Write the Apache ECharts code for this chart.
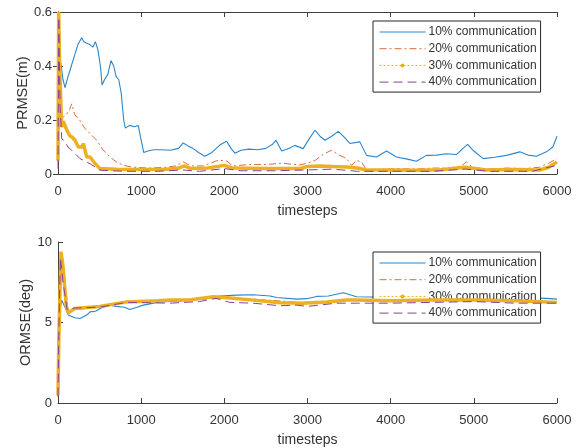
<!DOCTYPE html>
<html>
<head>
<meta charset="utf-8">
<script src="https://cdn.jsdelivr.net/npm/echarts@6/dist/echarts.min.js"></script>
<style>
  html, body { margin: 0; padding: 0; background: #fff; }
  #chart { width: 584px; height: 448px; }
</style>
</head>
<body>
<div id="chart"></div>
<script>
const seriesNames = ["10% communication", "20% communication", "30% communication", "40% communication"];
const xTicks = [0, 1000, 2000, 3000, 4000, 5000, 6000];

// PRMSE(m), [timestep, value]
const prmse10 = [[0,0.47],[10,0.45],[30,0.42],[60,0.35],[84,0.32],[120,0.36],[160,0.40],[200,0.44],[240,0.48],[285,0.505],[310,0.49],[340,0.485],[380,0.48],[420,0.47],[450,0.49],[480,0.46],[510,0.40],[530,0.33],[560,0.35],[600,0.37],[637,0.42],[670,0.40],[700,0.36],[730,0.35],[760,0.30],[790,0.20],[810,0.17],[860,0.18],[920,0.175],[965,0.18],[990,0.14],[1030,0.08],[1080,0.085],[1150,0.09],[1250,0.09],[1350,0.088],[1450,0.095],[1505,0.115],[1560,0.105],[1620,0.095],[1700,0.078],[1767,0.066],[1850,0.08],[1950,0.108],[2028,0.121],[2080,0.095],[2127,0.077],[2200,0.088],[2300,0.092],[2400,0.09],[2500,0.095],[2580,0.11],[2620,0.125],[2690,0.085],[2780,0.095],[2848,0.106],[2948,0.094],[3020,0.13],[3090,0.162],[3150,0.14],[3210,0.125],[3290,0.14],[3370,0.158],[3430,0.14],[3510,0.113],[3630,0.119],[3710,0.069],[3830,0.063],[3950,0.085],[4070,0.063],[4200,0.055],[4310,0.047],[4430,0.069],[4550,0.07],[4670,0.075],[4790,0.072],[4870,0.095],[4925,0.11],[5000,0.085],[5113,0.057],[5250,0.062],[5393,0.069],[5553,0.082],[5650,0.07],[5753,0.066],[5873,0.082],[5950,0.1],[6000,0.14]];
const prmse20 = [[0,0.05],[8,0.2],[24,0.22],[60,0.21],[100,0.22],[140,0.24],[165,0.26],[200,0.22],[260,0.2],[320,0.17],[400,0.145],[465,0.125],[540,0.09],[625,0.063],[700,0.045],[785,0.032],[900,0.025],[1100,0.022],[1300,0.025],[1420,0.03],[1506,0.045],[1600,0.03],[1750,0.03],[1927,0.051],[2030,0.048],[2100,0.03],[2300,0.035],[2500,0.035],[2700,0.04],[2900,0.033],[3000,0.04],[3090,0.05],[3200,0.075],[3290,0.088],[3380,0.07],[3470,0.057],[3530,0.032],[3590,0.05],[3650,0.045],[3710,0.014],[3900,0.018],[4100,0.02],[4300,0.018],[4500,0.022],[4700,0.022],[4850,0.03],[4912,0.045],[4980,0.025],[5150,0.018],[5400,0.022],[5600,0.02],[5790,0.025],[5900,0.04],[6000,0.057]];
const prmse30 = [[0,0.05],[8,0.6],[20,0.4],[44,0.174],[64,0.195],[84,0.2],[110,0.16],[145,0.14],[170,0.137],[204,0.125],[245,0.1],[290,0.1],[305,0.113],[345,0.063],[385,0.063],[445,0.039],[505,0.02],[700,0.018],[1000,0.017],[1300,0.018],[1450,0.022],[1520,0.03],[1600,0.02],[1800,0.022],[2000,0.032],[2100,0.022],[2500,0.02],[2900,0.02],[3000,0.028],[3150,0.03],[3300,0.028],[3470,0.026],[3600,0.022],[3700,0.015],[4000,0.015],[4300,0.014],[4600,0.016],[4900,0.025],[5150,0.015],[5500,0.017],[5790,0.015],[5900,0.025],[6000,0.045]];
const prmse40 = [[0,0.02],[10,0.58],[25,0.25],[45,0.13],[70,0.125],[90,0.13],[120,0.1],[165,0.088],[265,0.057],[385,0.038],[505,0.014],[800,0.01],[1200,0.01],[1500,0.015],[1700,0.01],[2000,0.02],[2200,0.012],[2600,0.012],[3000,0.015],[3300,0.018],[3600,0.01],[4000,0.01],[4500,0.01],[4900,0.018],[5200,0.01],[5700,0.01],[6000,0.032]];

// ORMSE(deg), [timestep, value]
const ormse10 = [[0,0.5],[15,5.5],[44,6.39],[80,6.0],[124,5.46],[200,5.3],[265,5.25],[345,5.46],[385,5.66],[450,5.7],[520,5.9],[625,6.08],[700,6.0],[800,5.95],[865,5.81],[950,5.95],[1025,6.08],[1225,6.28],[1530,6.35],[1750,6.45],[1947,6.65],[2150,6.7],[2345,6.72],[2550,6.65],[2630,6.55],[2870,6.45],[2990,6.48],[3110,6.62],[3250,6.65],[3430,6.85],[3590,6.6],[3750,6.58],[4000,6.6],[4500,6.55],[5000,6.6],[5500,6.55],[5873,6.5],[6000,6.45]];
const ormse20 = [[0,0.4],[15,5.5],[30,9.2],[50,9.0],[124,5.7],[200,5.8],[500,5.95],[825,6.25],[1200,6.35],[1500,6.4],[2000,6.55],[2500,6.4],[2900,6.25],[3200,6.3],[3600,6.4],[4000,6.35],[4500,6.4],[5000,6.45],[5500,6.35],[6000,6.28]];
const ormse30 = [[0,0.5],[10,4.0],[20,6.0],[36,9.4],[60,8.5],[100,6.0],[124,5.6],[200,5.87],[500,6.0],[825,6.28],[1200,6.35],[1347,6.39],[1600,6.42],[1868,6.6],[2000,6.56],[2349,6.39],[2668,6.22],[2948,6.2],[3229,6.27],[3470,6.4],[3590,6.39],[4000,6.35],[4500,6.4],[5000,6.4],[5500,6.35],[6000,6.25]];
const ormse40 = [[0,0.4],[15,6.0],[30,9.0],[60,7.5],[110,5.8],[200,5.9],[500,5.95],[825,6.25],[1347,6.2],[1700,6.3],[1900,6.5],[2067,6.25],[2345,6.2],[2668,6.04],[2870,6.08],[3000,6.0],[3350,6.2],[3600,6.2],[4000,6.2],[4500,6.25],[5000,6.3],[5500,6.2],[6000,6.2]];

const colors = ["#2a86cc", "#de6a3a", "#edb120", "#8a3f9a"];
const lineTypes = ["solid", [7, 3, 2, 3], "solid", [9, 5]];
const lineWidths = [1.1, 1, 3.5, 1];
const axisColor = "#404040";
const font = "'Liberation Sans', Arial, sans-serif";

const chart = echarts.init(document.getElementById("chart"), null, { renderer: "canvas" });

function xAxisFor(gridIndex, show, position) {
  return {
    type: "value", gridIndex, position, min: 0, max: 6000, interval: 1000,
    name: show ? "timesteps" : "", nameLocation: "middle", nameGap: 30,
    nameTextStyle: { fontSize: 14, color: "#333", fontFamily: font },
    axisLine: { show: true, onZero: false, lineStyle: { color: axisColor, width: 1 } },
    axisTick: { show: true, inside: true, length: 5, lineStyle: { color: axisColor } },
    axisLabel: { show, fontSize: 13, color: "#333", fontFamily: font, margin: 11, formatter: v => String(v) },
    splitLine: { show: false }
  };
}

function yAxisFor(gridIndex, show, position, max, interval, name, gap) {
  return {
    type: "value", gridIndex, position, min: 0, max, interval,
    name: show ? name : "", nameLocation: "middle", nameGap: gap, nameRotate: 90,
    nameMoveOverlap: false,
    nameTextStyle: { fontSize: 14.5, color: "#333", fontFamily: font },
    axisLine: { show: true, lineStyle: { color: axisColor, width: 1 } },
    axisTick: { show: true, inside: true, length: 5, lineStyle: { color: axisColor } },
    axisLabel: { show, fontSize: 13, color: "#333", fontFamily: font, margin: 6, formatter: v => String(v) },
    splitLine: { show: false }
  };
}

function legendFor(top, seriesIds) {
  return {
    orient: "vertical", left: 373, top,
    data: seriesNames.map((name, i) => {
      // only the 30% entry keeps its marker, drawn on a thin dotted line
      if (i === 2) return { name, lineStyle: { type: [2, 2], width: 1 } };
      return { name, itemStyle: { opacity: 0 }, lineStyle: { width: 1 } };
    }),
    seriesIndex: seriesIds,
    backgroundColor: "#fff", borderColor: "#262626", borderWidth: 1,
    padding: [5, 4, 4, 6], itemWidth: 46, itemHeight: 5, itemGap: 4.7,
    textStyle: { fontSize: 12, color: "#333", fontFamily: font, padding: [0, 0, 0, -2] },
    selectedMode: false
  };
}

const topData = [prmse10, prmse20, prmse30, prmse40];
const bottomData = [ormse10, ormse20, ormse30, ormse40];

function makeSeries(dataList, axisIndex) {
  return dataList.map((data, i) => ({
    name: seriesNames[i], type: "line", data,
    xAxisIndex: axisIndex, yAxisIndex: axisIndex,
    symbol: i === 2 ? "circle" : "none", symbolSize: 4, showSymbol: false,
    lineStyle: { color: colors[i], width: lineWidths[i], type: lineTypes[i] },
    itemStyle: { color: colors[i] },
    z: 2 + i, animation: false, silent: true
  }));
}

chart.setOption({
  backgroundColor: "#fff",
  animation: false,
  grid: [
    { left: 58, top: 12, width: 499, height: 162 },
    { left: 58, top: 242, width: 499, height: 161 }
  ],
  xAxis: [
    xAxisFor(0, true, "bottom"),
    xAxisFor(1, true, "bottom"),
    xAxisFor(0, false, "top")
  ],
  yAxis: [
    yAxisFor(0, true, "left", 0.6, 0.2, "PRMSE(m)", 28),
    yAxisFor(1, true, "left", 10, 5, "ORMSE(deg)", 25),
    yAxisFor(0, false, "right", 0.6, 0.2, "", 0)
  ],
  legend: [legendFor(21, [0, 1, 2, 3]), legendFor(252, [4, 5, 6, 7])],
  series: [...makeSeries(topData, 0), ...makeSeries(bottomData, 1)]
});
</script>
</body>
</html>
